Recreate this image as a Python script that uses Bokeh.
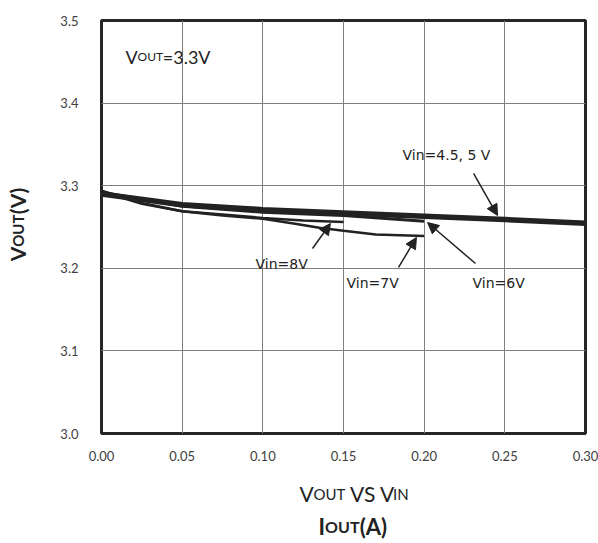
import math
from bokeh.plotting import figure
from bokeh.layouts import column, row
from bokeh.models import Label, Arrow, NormalHead, FixedTicker, Range1d, NumeralTickFormatter
from bokeh.embed import file_html
from bokeh.resources import INLINE

# ---------------- data ----------------
x_ticks = [0.00, 0.05, 0.10, 0.15, 0.20, 0.25, 0.30]
x_tick_labels = ["0.00", "0.05", "0.10", "0.15", "0.20", "0.25", "0.30"]
y_ticks = [3.0, 3.1, 3.2, 3.3, 3.4, 3.5]
y_tick_labels = ["3.0", "3.1", "3.2", "3.3", "3.4", "3.5"]

iout_45_5v = [0.00, 0.05, 0.10, 0.15, 0.20, 0.25, 0.30]
vout_45_5v = [3.290, 3.277, 3.271, 3.267, 3.263, 3.259, 3.2545]

iout_6v = [0.00, 0.05, 0.10, 0.15, 0.20]
vout_6v = [3.292, 3.275, 3.268, 3.264, 3.257]

iout_7v = [0.00, 0.025, 0.05, 0.075, 0.10, 0.12, 0.135, 0.15, 0.17, 0.20]
vout_7v = [3.294, 3.279, 3.269, 3.264, 3.260, 3.254, 3.249, 3.2455, 3.241, 3.239]

iout_8v = [0.00, 0.025, 0.05, 0.075, 0.10, 0.125, 0.15]
vout_8v = [3.293, 3.278, 3.269, 3.265, 3.261, 3.258, 3.256]

series_labels = ["Vin=4.5, 5 V", "Vin=6V", "Vin=7V", "Vin=8V"]

INK = "#222222"
W, H = 598, 543
YT_W = 40          # width of the strip holding the y-axis title
MAIN_H = 470       # height of the main chart canvas

# ---------------- main figure ----------------
p = figure(width=W - YT_W, height=MAIN_H, x_range=Range1d(0, 0.3), y_range=Range1d(3.0, 3.5),
           output_backend="svg", toolbar_location=None,
           min_border_left=101 - YT_W, min_border_right=13, min_border_top=20,
           min_border_bottom=MAIN_H - 20 - 413)
p.background_fill_color = "white"
p.border_fill_color = "white"
p.outline_line_color = "#262626"
p.outline_line_width = 3

p.xaxis.ticker = FixedTicker(ticks=x_ticks)
p.yaxis.ticker = FixedTicker(ticks=y_ticks)
p.xaxis.formatter = NumeralTickFormatter(format="0.00")
p.yaxis.formatter = NumeralTickFormatter(format="0.0")
p.xaxis.major_label_overrides = {t: s for t, s in zip(x_ticks, x_tick_labels)}
p.yaxis.major_label_overrides = {t: s for t, s in zip(y_ticks, y_tick_labels)}
for ax in (p.xaxis, p.yaxis):
    ax.axis_line_color = None
    ax.major_tick_line_color = None
    ax.minor_tick_line_color = None
    ax.major_label_text_font = "Lato"
    ax.major_label_text_font_size = "13px"
    ax.major_label_text_color = "#404040"
p.xaxis.major_label_standoff = 11
p.yaxis.major_label_standoff = 17

p.xgrid.ticker = FixedTicker(ticks=x_ticks)
p.ygrid.ticker = FixedTicker(ticks=y_ticks)
for g in (p.xgrid, p.ygrid):
    g.grid_line_color = "#7f7f7f"
    g.grid_line_width = 1

# curves
p.line(iout_8v, vout_8v, line_width=2.5, color=INK)
p.line(iout_7v, vout_7v, line_width=2.5, color=INK)
p.line(iout_6v, vout_6v, line_width=3, color=INK)
p.line(iout_45_5v, vout_45_5v, line_width=5.5, color=INK)

# annotations: (text, text_x, text_y, arrow start, arrow end)
ann = [
    (series_labels[0], 0.1866, 3.3366, (0.2306, 3.3148), (0.2455, 3.2639)),
    (series_labels[1], 0.2300, 3.1816, (0.2318, 3.2058), (0.2021, 3.2554)),
    (series_labels[2], 0.1519, 3.1816, (0.1841, 3.2010), (0.1952, 3.2373)),
    (series_labels[3], 0.0955, 3.2058, (0.1308, 3.2240), (0.1419, 3.2542)),
]
for txt, tx, ty, (xs, ys), (xe, ye) in ann:
    p.add_layout(Label(x=tx, y=ty, text=txt, text_font="DejaVu Sans", text_font_size="14px",
                       text_baseline="middle", text_align="left", text_color=INK))
    p.add_layout(Arrow(end=NormalHead(size=11, fill_color=INK, line_color=INK),
                       x_start=xs, y_start=ys, x_end=xe, y_end=ye,
                       line_width=1.5, line_color=INK))

# composite text helper (small caps imitation)
EM = {"V": .67, "O": .78, "U": .73, "T": .59, "S": .52, "I": .29, "N": .77, " ": .19,
      "(": .33, ")": .33, "A": .68, "=": .58, "3": .58, ".": .23}


def width(s, size, bold=False):
    return sum(EM.get(c, .6) for c in s) * size * (1.03 if bold else 1.0)


def composite(fig, x, y, pieces, bold=False, angle=0.0, color=INK):
    """pieces: (text, font size px, extra gap after in px)"""
    off = 0.0
    for s, size, gap in pieces:
        kw = dict(x=x, y=y, text=s, text_font="Lato", text_font_size=f"{size}px",
                  text_font_style="bold" if bold else "normal", text_color=color,
                  text_align="left", text_baseline="alphabetic", angle=angle)
        if angle:
            kw["y_offset"] = off
        else:
            kw["x_offset"] = off
        fig.add_layout(Label(**kw))
        off += width(s, size, bold) + gap


# in-plot note  V_OUT=3.3V
composite(p, 0.0149, 3.456, [("V", 18, 0), ("OUT", 12, 0), ("=3.3V", 18, 0)])


def blank(w, h):
    f = figure(width=w, height=h, x_range=Range1d(0, w), y_range=Range1d(0, h),
               output_backend="svg", toolbar_location=None,
               x_axis_type=None, y_axis_type=None, min_border=0)
    f.outline_line_color = None
    f.background_fill_color = "white"
    f.border_fill_color = "white"
    f.grid.visible = False
    return f


# y-axis title strip (pixel coordinates)
yfig = blank(YT_W, MAIN_H)
composite(yfig, 17, MAIN_H - 274, [("V", 21, 0), ("OUT", 15, 0), ("(V)", 21, 0)],
          bold=True, angle=math.pi / 2)

# x-axis title strip (pixel coordinates)
XT_H = H - MAIN_H
xfig = blank(W, XT_H)
composite(xfig, 299, XT_H - (493 - MAIN_H),
          [("V", 21, 0), ("OUT", 15, 5), ("VS V", 21, 0), ("IN", 15, 0)])
composite(xfig, 318, XT_H - (526 - MAIN_H),
          [("I", 22, 0), ("OUT", 16, 0), ("(A)", 22, 0)], bold=True)

layout = column(row(yfig, p, spacing=0), xfig, spacing=0)
open("out.html", "w").write(file_html(layout, INLINE))
